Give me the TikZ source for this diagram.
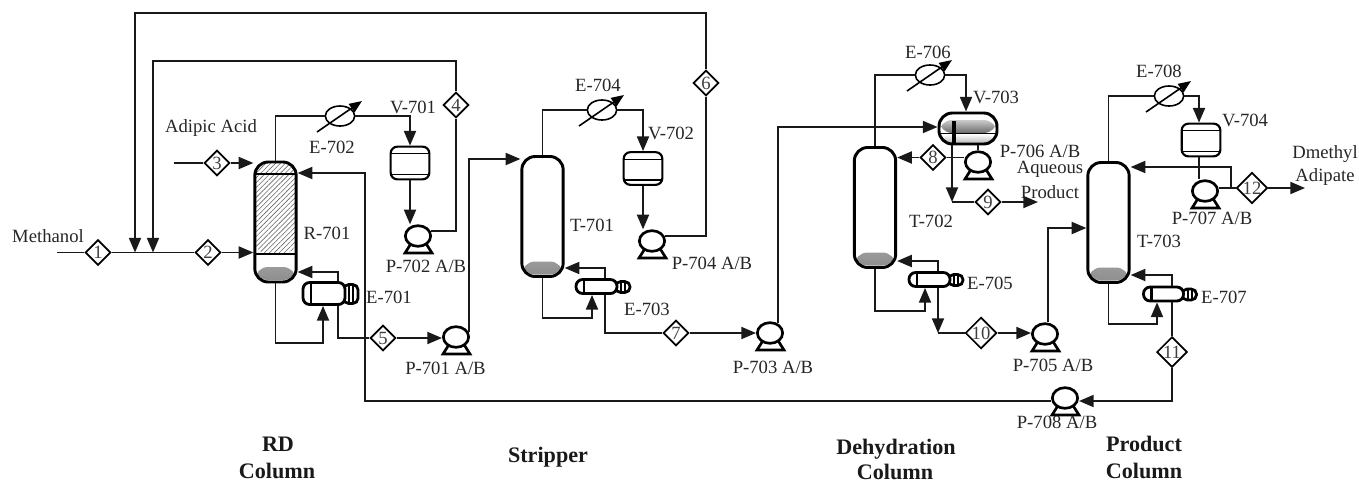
\documentclass[tikz,border=0pt]{standalone}
\usepackage{fontspec}
\setmainfont{Liberation Serif}
\usepackage{xcolor}
\usepackage{tikz}
\usetikzlibrary{calc,shapes.geometric,arrows.meta,patterns.meta}

\newcommand{\pumpsym}[2]{%
  \draw[pumpbase] ($(#2)+(-6,6)$) -- ($(#2)+(-13,17)$) -- ($(#2)+(14,17)$) -- ($(#2)+(7,6)$);
  \node[pumpbody] (#1) at (#2) {};
}
\newcommand{\condsym}[2]{%
  \node[condbody] (#1) at (#2) {};
  \draw[conddial] ($(#1)+(-23,16)$) -- ($(#1)+(22,-15)$);
}
% name, centre of shell, shell width and height in pixels of the reference
\newcommand{\reboilsym}[4]{%
  \node[rebhead, minimum height={(#4-3)*0.75pt}, anchor=west] (#1h) at ($(#2)+(#3/2-3,0.5)$) {};
  \node[rebshell, minimum width={#3*0.75pt}, minimum height={#4*0.75pt}] (#1) at (#2) {};
}

\begin{document}
\begin{tikzpicture}[
  x=0.75pt, y=-0.75pt,
  tag/.style={font=\fontsize{14}{16}\selectfont, text=black!85, inner sep=0pt},
  title/.style={font=\fontsize{16.6}{18}\selectfont\bfseries, text=black!90, inner sep=0pt},
  line/.style={line width=1.4pt, black!90},
  flow/.style={line, -{Triangle[length=11pt,width=9pt]}},
  stream/.style={diamond, draw, line width=1.3pt, fill=white, inner sep=0pt, minimum size=19pt, text=black!75, font=\fontsize{14}{14}\selectfont},
  column/.style={rectangle, draw, line width=2.2pt, rounded corners=10pt, fill=white, minimum width=31pt, minimum height=90pt, inner sep=0pt,
    path picture={\shade[top color=white, bottom color=black!45] ($(path picture bounding box.south west)+(0,-15)$) rectangle ($(path picture bounding box.south east)+(0,-2)$);}},
  packed/.style={column,
    path picture={
      \shade[top color=white, bottom color=black!45] ($(path picture bounding box.south west)+(0,-15)$) rectangle ($(path picture bounding box.south east)+(0,-2)$);
      \fill[pattern={Lines[angle=45,distance=2.6pt,line width=.45pt]}, pattern color=black!60] (path picture bounding box.north west) rectangle ($(path picture bounding box.north east)+(0,92)$);
      \draw[line width=.9pt] ($(path picture bounding box.north west)+(0,12)$) -- ($(path picture bounding box.north east)+(0,12)$);
      \draw[line width=1.2pt] ($(path picture bounding box.north west)+(0,92)$) -- ($(path picture bounding box.north east)+(0,92)$);
    }},
  drum/.style={rectangle, draw, line width=1.6pt, rounded corners=5pt, fill=white, minimum width=29pt, minimum height=24.5pt, inner sep=0pt,
    path picture={
      \draw[line width=1pt] ($(path picture bounding box.north west)+(0,7)$) -- ($(path picture bounding box.north east)+(0,7)$);
      \draw[line width=1pt] ($(path picture bounding box.south west)+(0,-5)$) -- ($(path picture bounding box.south east)+(0,-5)$);
    }},
  hdrum/.style={rectangle, draw, line width=2.2pt, rounded corners=10pt, fill=white, minimum width=43.5pt, minimum height=23.25pt, inner sep=0pt,
    path picture={
      \shade[top color=white, bottom color=black!90] ($(path picture bounding box.north west)+(0,7)$) rectangle ($(path picture bounding box.north east)+(0,20)$);
      \shade[top color=white, bottom color=black!30] ($(path picture bounding box.north west)+(0,21)$) rectangle (path picture bounding box.south east);
      \draw[line width=1.4pt] ($(path picture bounding box.north west)+(0,20.5)$) -- ($(path picture bounding box.north east)+(0,20.5)$);
      \draw[line width=2.4pt] ($(path picture bounding box.north west)+(15,8)$) -- ($(path picture bounding box.south west)+(15,0)$);
    }},
  rebshell/.style={rectangle, draw, line width=2.1pt, rounded corners=5pt, fill=white, inner sep=0pt,
    path picture={\draw[line width=1.6pt] ($(path picture bounding box.north west)+(8,0)$) -- ($(path picture bounding box.south west)+(8,0)$);}},
  rebhead/.style={rectangle, draw, line width=2.1pt, rounded corners=4pt, fill=white, inner sep=0pt, minimum width=11pt,
    path picture={\foreach \off in {6,10}
      \draw[line width=1.4pt] ($(path picture bounding box.north west)+(\off,0)$) -- ($(path picture bounding box.south west)+(\off,0)$);}},
  pumpbody/.style={ellipse, draw, line width=2pt, fill=white, inner sep=0pt, minimum width=19pt, minimum height=15.5pt},
  pumpbase/.style={line width=2pt, line join=miter, fill=white},
  condbody/.style={ellipse, draw, line width=1.2pt, fill=white, inner sep=0pt, minimum width=22pt, minimum height=15pt},
  conddial/.style={line width=1.2pt, -{Triangle[length=9.5pt,width=7.5pt]}}
]
\useasboundingbox (0,0) rectangle (1359,483);

% Columns
\node[packed] (R701) at (275.5,222) {};
\node[column] (T701) at (542.5,216.5) {};
\node[column] (T702) at (875,207.5) {};
\node[column] (T703) at (1108.5,222.5) {};

% Drums
\node[drum] (V701) at (410,163) {};
\node[drum] (V702) at (643,168.5) {};
\node[drum] (V704) at (1201,140) {};
\node[hdrum] (V703) at (968,128.5) {};

% Condensers
\condsym{E702}{340,116}
\condsym{E704}{602,110}
\condsym{E706}{930,75}
\condsym{E708}{1169,96}

% Reboilers
\reboilsym{E701}{324,293.5}{42}{22}
\reboilsym{E703}{596.5,286.5}{41}{14}
\reboilsym{E705}{929.5,279.5}{41}{14}
\reboilsym{E707}{1163.5,294}{40}{14}

% Pumps
\pumpsym{P701}{456,337}
\pumpsym{P702}{418,236}
\pumpsym{P703}{770,333}
\pumpsym{P704}{652,241}
\pumpsym{P705}{1045,334}
\pumpsym{P706}{978,162}
\pumpsym{P707}{1205,191}
\pumpsym{P708}{1065,398}

% Stream numbers
\node[stream] (d1) at (98,252.5) {1};
\node[stream] (d2) at (208,252.5) {2};
\node[stream] (d3) at (217,163) {3};
\node[stream] (d4) at (456,105) {4};
\node[stream] (d5) at (383,338) {5};
\node[stream] (d6) at (706,83) {6};
\node[stream] (d7) at (676,333) {7};
\node[stream] (d8) at (933,157.5) {8};
\node[stream] (d9) at (988,202) {9};
\node[stream] (d10) at (981,333) {10};
\node[stream] (d11) at (1172,352) {11};
\node[stream] (d12) at (1252,188) {12};

% Free ends and bends
\coordinate (feedM) at (57,252.5);
\coordinate (feedA) at (174,163);
\coordinate (topL) at (135,13);
\coordinate (topR) at (706,13);
\coordinate (midL) at (153,61);
\coordinate (midR) at (456,61);
\coordinate (retB) at (365,401);
\coordinate (retT) at (365,173);
\coordinate (loopR) at (275.5,343);
\coordinate (backR) at (338,272);
\coordinate (feedT) at (469,159);
\coordinate (loopS) at (542.5,318);
\coordinate (backS) at (605,268);
\coordinate (feedV) at (780,127);
\coordinate (aqB) at (952,202);
\coordinate (aqE) at (1038,202);
\coordinate (loopD) at (875,311);
\coordinate (backD) at (938,261);
\coordinate (botD) at (938,333);
\coordinate (feedP) at (1048,228);
\coordinate (refB) at (1231,188);
\coordinate (refT) at (1231,167);
\coordinate (prodE) at (1305,188);
\coordinate (loopP) at (1108.5,324);
\coordinate (backP) at (1172,275);

% RD column
\draw[line] (feedM) -- (d1.west);
\draw[line] (d1.east) -- (d2.west);
\draw[flow] (d2.east) -- (d2 -| R701.west);
\draw[line] (feedA) -- (d3.west);
\draw[flow] (d3.east) -- (d3 -| R701.west);
\draw[flow] (d6.north) -- (topR) -- (topL) -- (topL |- d1);
\draw[flow] (d4.north) -- (midR) -- (midL) -- (midL |- d1);
\draw[line] (R701.north) |- (E702.west);
\draw[flow] (E702.east) -| (V701.north);
\draw[flow] (V701.south) -- (V701.south |- P702.north);
\draw[line] (P702.20) -| (d4.south);
\draw[flow] (R701.south) -- (loopR) -| ($(E701.south)+(-1,0)$);
\draw[flow] ($(E701.north)+(14,0)$) -- (backR) -- (backR -| R701.east);
\draw[line] ($(E701.south)+(14,0)$) |- (d5.west);
\draw[flow] (d5.east) -- (d5 -| P701.west);

% Stripper
\draw[flow] (P701.20) |- (feedT -| T701.west);
\draw[line] (T701.north) |- (E704.west);
\draw[flow] (E704.east) -| (V702.north);
\draw[flow] (V702.south) -- (V702.south |- P704.north);
\draw[line] (P704.20) -| (d6.south);
\draw[flow] (T701.south) -- (loopS) -| ($(E703.south)+(-4.5,0)$);
\draw[flow] ($(E703.north)+(8.5,0)$) -- (backS) -- (backS -| T701.east);
\draw[line] ($(E703.south)+(8.5,0)$) |- (d7.west);
\draw[flow] (d7.east) -- (P703.west);

% Dehydration column
\draw[flow] (P703.50) |- (feedV -| V703.west);
\draw[line] (T702.north) |- (E706.west);
\draw[flow] (E706.east) -| ($(V703.north)+(-2,0)$);
\draw[line] (P706.north |- V703.south) -- (P706.north);
\draw[line] (d8 -| P706.west) -- (d8.east);
\draw[flow] (d8.west) -- (d8 -| T702.east);
\draw[flow] (aqB |- V703.south) -- (aqB);
\draw[line] (aqB) -- (d9.west);
\draw[flow] (d9.east) -- (aqE);
\draw[flow] (T702.south) -- (loopD) -| ($(E705.south)+(-4.5,0)$);
\draw[flow] ($(E705.north)+(8.5,0)$) -- (backD) -- (backD -| T702.east);
\draw[flow] ($(E705.south)+(8.5,0)$) -- (botD);
\draw[line] (botD) -- (d10.west);
\draw[flow] (d10.east) -- (d10 -| P705.west);

% Product column
\draw[flow] ($(P705.north)+(3,0)$) |- (feedP -| T703.west);
\draw[line] (T703.north) |- (E708.west);
\draw[flow] (E708.east) -| ($(V704.north)+(-2,0)$);
\draw[line] ($(V704.south)+(-2,0)$) -- ($(P707.north)+(-6,0)$);
\draw[line] (d12 -| P707.east) -- (d12.west);
\draw[flow] (d12.east) -- (prodE);
\draw[flow] (refB) -- (refT) -- (refT -| T703.east);
\draw[flow] (T703.south) -- (loopP) -| ($(E707.south)+(-6.5,0)$);
\draw[flow] ($(E707.north)+(8.5,0)$) -- (backP) -- (backP -| T703.east);
\draw[line] ($(E707.south)+(8.5,0)$) -- (d11.north);
\draw[flow] (d11.south) |- (retB -| P708.east);

% Return to RD column
\draw[flow] (retB -| P708.west) -- (retB) -- (retT) -- (retT -| R701.east);

% Labels
\node[tag] (tMeth) at (48,236) {Methanol};
\node[tag] (tAcid) at (211,128) {Adipic Acid};
\node[tag] (tR701) at (327,233) {R-701};
\node[tag] (tE702) at (332,147) {E-702};
\node[tag] (tV701) at (413,107) {V-701};
\node[tag] (tE701) at (389,297) {E-701};
\node[tag] (tP702) at (426,266) {P-702 A/B};
\node[tag] (tP701) at (445.5,368) {P-701 A/B};
\node[tag] (tT701) at (592,225) {T-701};
\node[tag] (tE704) at (598,85) {E-704};
\node[tag] (tV702) at (671,133) {V-702};
\node[tag] (tP704) at (712,263) {P-704 A/B};
\node[tag] (tE703) at (647,309) {E-703};
\node[tag] (tP703) at (773,367) {P-703 A/B};
\node[tag] (tE706) at (928,52) {E-706};
\node[tag] (tV703) at (996,97) {V-703};
\node[tag] (tP706) at (1040,151) {P-706 A/B};
\node[tag] (tAque) at (1050,169) {Aqueous};
\node[tag] (tProd) at (1050,192) {Product};
\node[tag] (tT702) at (931,221) {T-702};
\node[tag] (tE705) at (990,283) {E-705};
\node[tag] (tP705) at (1053,365) {P-705 A/B};
\node[tag] (tE708) at (1159,71) {E-708};
\node[tag] (tV704) at (1245,120) {V-704};
\node[tag] (tDmet) at (1325,154) {Dmethyl};
\node[tag] (tAdip) at (1325,177) {Adipate};
\node[tag] (tP707) at (1212,218) {P-707 A/B};
\node[tag] (tT703) at (1159,241) {T-703};
\node[tag] (tE707) at (1224,297) {E-707};
\node[tag] (tP708) at (1057,422) {P-708 A/B};

% Section titles
\node[title] (sRD1) at (278,444) {RD};
\node[title] (sRD2) at (277,471) {Column};
\node[title] (sSt) at (548,457) {Stripper};
\node[title] (sDe1) at (896,449) {Dehydration};
\node[title] (sDe2) at (895,472) {Column};
\node[title] (sPr1) at (1144,444) {Product};
\node[title] (sPr2) at (1144,471) {Column};

\end{tikzpicture}
\end{document}
